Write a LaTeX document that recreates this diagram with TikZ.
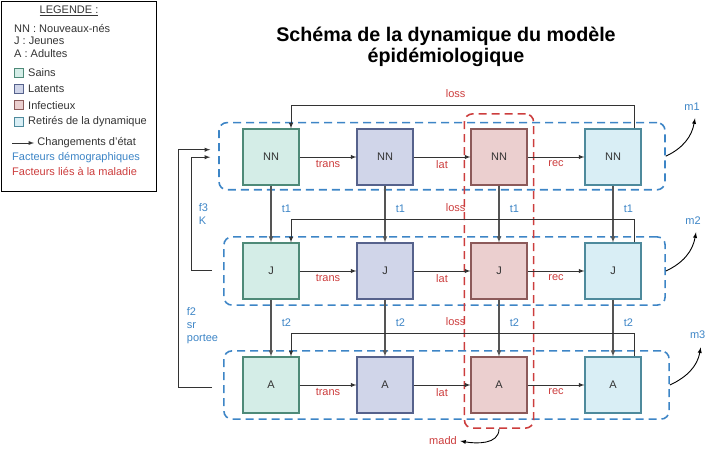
\documentclass[tikz,border=0pt]{standalone}
\usepackage{fontspec}
\setmainfont{Liberation Sans}
\usepackage{tikz}
\usetikzlibrary{positioning, arrows, calc, fit, shapes}

\definecolor{sainsfill}{HTML}{D4EDE7}
\definecolor{sainsdraw}{HTML}{4E8A78}
\definecolor{latfill}{HTML}{D0D5E9}
\definecolor{latdraw}{HTML}{56628C}
\definecolor{inffill}{HTML}{EBCFCF}
\definecolor{infdraw}{HTML}{8C5A5A}
\definecolor{retfill}{HTML}{D9EEF5}
\definecolor{retdraw}{HTML}{4E8A9C}
\definecolor{demoblue}{HTML}{3D85C6}
\definecolor{malred}{HTML}{CC3D3D}
\definecolor{arrowgray}{HTML}{333333}
\definecolor{linegray}{HTML}{555555}
\definecolor{textdark}{HTML}{333333}

\begin{document}
\begin{tikzpicture}[
x=1pt, y=1pt,
node distance = 56.8pt and 56.8pt,
    box/.style = {rectangle, draw=#1draw, fill=#1fill, line width=1.2pt,
        minimum width=56pt, minimum height=56pt, inner sep=0pt,
        text=textdark, font=\fontsize{11}{13}\selectfont},
    legsq/.style = {rectangle, draw=#1draw, fill=#1fill, line width=1pt,
        minimum size=9pt, inner sep=0pt},
    grp/.style = {draw=demoblue, line width=1.6pt, dash pattern=on 8pt off 5pt,
        rounded corners=8pt},
    sickgrp/.style = {draw=malred, line width=1.6pt, dash pattern=on 8pt off 5pt,
        rounded corners=8pt},
    msg/.style = {-latex, draw=arrowgray, line width=0.9pt},
    downmsg/.style = {-latex, draw=linegray, line width=1.1pt},
    curvemsg/.style = {-latex, draw=black, line width=0.9pt},
    msglabel/.style = {font=\fontsize{11}{13}\selectfont, text=#1},
    legtext/.style = {font=\fontsize{11}{12.5}\selectfont, text=textdark,
        anchor=west, inner sep=0pt},
]
\useasboundingbox (0,0) rectangle (720,464);

% titre
\node[font=\bfseries\fontsize{19.7}{20.5}\selectfont, align=center, text=black] (title) at (446,417)
    {Schéma de la dynamique du modèle\\épidémiologique};

% legende
\node[draw=black, line width=1.2pt, minimum width=155pt, minimum height=190pt,
    anchor=north west, inner sep=0pt] (legend) at (1,463) {};
\node[legtext, anchor=center] (legtitle) at (69,453) {\underline{LEGENDE :}};
\node[legtext, align=left] (legabbr) at (14,423) {NN : Nouveaux-nés\\J : Jeunes\\A : Adultes};
\node[legsq=sains] (legS) at (19,391) {};
\node[legtext, right=4pt of legS] (legSt) {Sains};
\node[legsq=lat] (legL) at (19,375) {};
\node[legtext, right=4pt of legL] (legLt) {Latents};
\node[legsq=inf] (legI) at (19,358.5) {};
\node[legtext, right=4pt of legI] (legIt) {Infectieux};
\node[legsq=ret] (legR) at (19,342) {};
\node[legtext, right=4pt of legR] (legRt) {Retirés de la dynamique};
\coordinate (legarr) at (12,321);
\draw[msg] (legarr) -- ++(22,0) node[legtext, right=3pt] (legmsg) {Changements d'état};
\node[legtext, text=demoblue] (legdemo) at (12,306) {Facteurs démographiques};
\node[legtext, text=malred] (legmal) at (12,292.5) {Facteurs liés à la maladie};

% compartiments
\node[box=sains] (SNN) at (271,307) {NN};
\node[box=lat, right=of SNN] (LNN) {NN};
\node[box=inf, right=of LNN] (INN) {NN};
\node[box=ret, right=of INN] (RNN) {NN};

\node[box=sains, below=of SNN] (SJ) {J};
\node[box=lat, right=of SJ] (LJ) {J};
\node[box=inf, right=of LJ] (IJ) {J};
\node[box=ret, right=of IJ] (RJ) {J};

\node[box=sains, below=of SJ] (SA) {A};
\node[box=lat, right=of SA] (LA) {A};
\node[box=inf, right=of LA] (IA) {A};
\node[box=ret, right=of IA] (RA) {A};

% groupes
\node[grp, fit=(SNN)(RNN), inner xsep=23.4pt, inner ysep=5pt, yshift=0.8pt] (row1) {};
\node[grp, fit=(SJ)(RJ), inner xsep=21pt, inner ysep=5.5pt, xshift=2.5pt] (row2) {};
\node[grp, fit=(SA)(RA), inner xsep=23pt, inner ysep=5.5pt, xshift=4.5pt] (row3) {};
\node[sickgrp, fit=(INN)(IA), inner xsep=6pt, inner ysep=14.5pt] (sick) {};

% transitions
\draw[msg] (SNN) -- node[msglabel=malred, below] {trans} (LNN);
\draw[msg] (LNN) -- node[msglabel=malred, below] {lat} (INN);
\draw[msg] (INN) -- node[msglabel=malred, below] {rec} (RNN);
\draw[msg] (SJ) -- node[msglabel=malred, below] {trans} (LJ);
\draw[msg] (LJ) -- node[msglabel=malred, below] {lat} (IJ);
\draw[msg] (IJ) -- node[msglabel=malred, below] {rec} (RJ);
\draw[msg] (SA) -- node[msglabel=malred, below] {trans} (LA);
\draw[msg] (LA) -- node[msglabel=malred, below] {lat} (IA);
\draw[msg] (IA) -- node[msglabel=malred, below] {rec} (RA);

% vieillissement
\draw[downmsg] (SNN) -- node[msglabel=demoblue, right=7pt, pos=0.4] {t1} (SJ);
\draw[downmsg] (LNN) -- node[msglabel=demoblue, right=7pt, pos=0.4] {t1} (LJ);
\draw[downmsg] (INN) -- node[msglabel=demoblue, right=7pt, pos=0.4] {t1} (IJ);
\draw[downmsg] (RNN) -- node[msglabel=demoblue, right=7pt, pos=0.4] {t1} (RJ);
\draw[downmsg] (SJ) -- node[msglabel=demoblue, right=7pt, pos=0.4] {t2} (SA);
\draw[downmsg] (LJ) -- node[msglabel=demoblue, right=7pt, pos=0.4] {t2} (LA);
\draw[downmsg] (IJ) -- node[msglabel=demoblue, right=7pt, pos=0.4] {t2} (IA);
\draw[downmsg] (RJ) -- node[msglabel=demoblue, right=7pt, pos=0.4] {t2} (RA);

% perte d'immunite
\draw[msg] ([xshift=21pt]RNN.north) -- ++(0,23) -| node[msglabel=malred, above=4pt, pos=0.26] {loss} ([xshift=20pt]SNN.north);
\draw[msg] ([xshift=21pt]RJ.north) -- ++(0,23) -| node[msglabel=malred, above=4pt, pos=0.26] {loss} ([xshift=20pt]SJ.north);
\draw[msg] ([xshift=21pt]RA.north) -- ++(0,23) -| node[msglabel=malred, above=4pt, pos=0.26] {loss} ([xshift=20pt]SA.north);

% naissances
\draw[msg] ([xshift=-11pt,yshift=1pt]row2.west) -- ++(-21,0) |- node[msglabel=demoblue, right=4pt, pos=0.25, align=left] {f3\\K} ([xshift=-8pt,yshift=-1pt]row1.west);
\draw[msg] ([xshift=-11pt,yshift=-2pt]row3.west) -- ++(-34,0) |- node[msglabel=demoblue, right=5pt, pos=0.13, align=left] {f2\\sr\\portee} ([xshift=-8pt,yshift=6.5pt]row1.west);

% mortalite
\node[msglabel=demoblue] (m1) at (692,357) {m1};
\node[msglabel=demoblue] (m2) at (693,243) {m2};
\node[msglabel=demoblue] (m3) at (697.7,129) {m3};
\node[msglabel=malred] (madd) at (443,23) {madd};
\draw[curvemsg] (row1.east) to[out=25, in=-100] ([xshift=3pt,yshift=-4pt]m1.south);
\draw[curvemsg] (row2.east) to[out=25, in=-100] ([xshift=3pt,yshift=-4pt]m2.south);
\draw[curvemsg] (row3.east) to[out=25, in=-100] ([xshift=3pt,yshift=-5pt]m3.south);
\draw[curvemsg] (sick.south) to[out=-90, in=-10] (madd.east);

\end{tikzpicture}
\end{document}
